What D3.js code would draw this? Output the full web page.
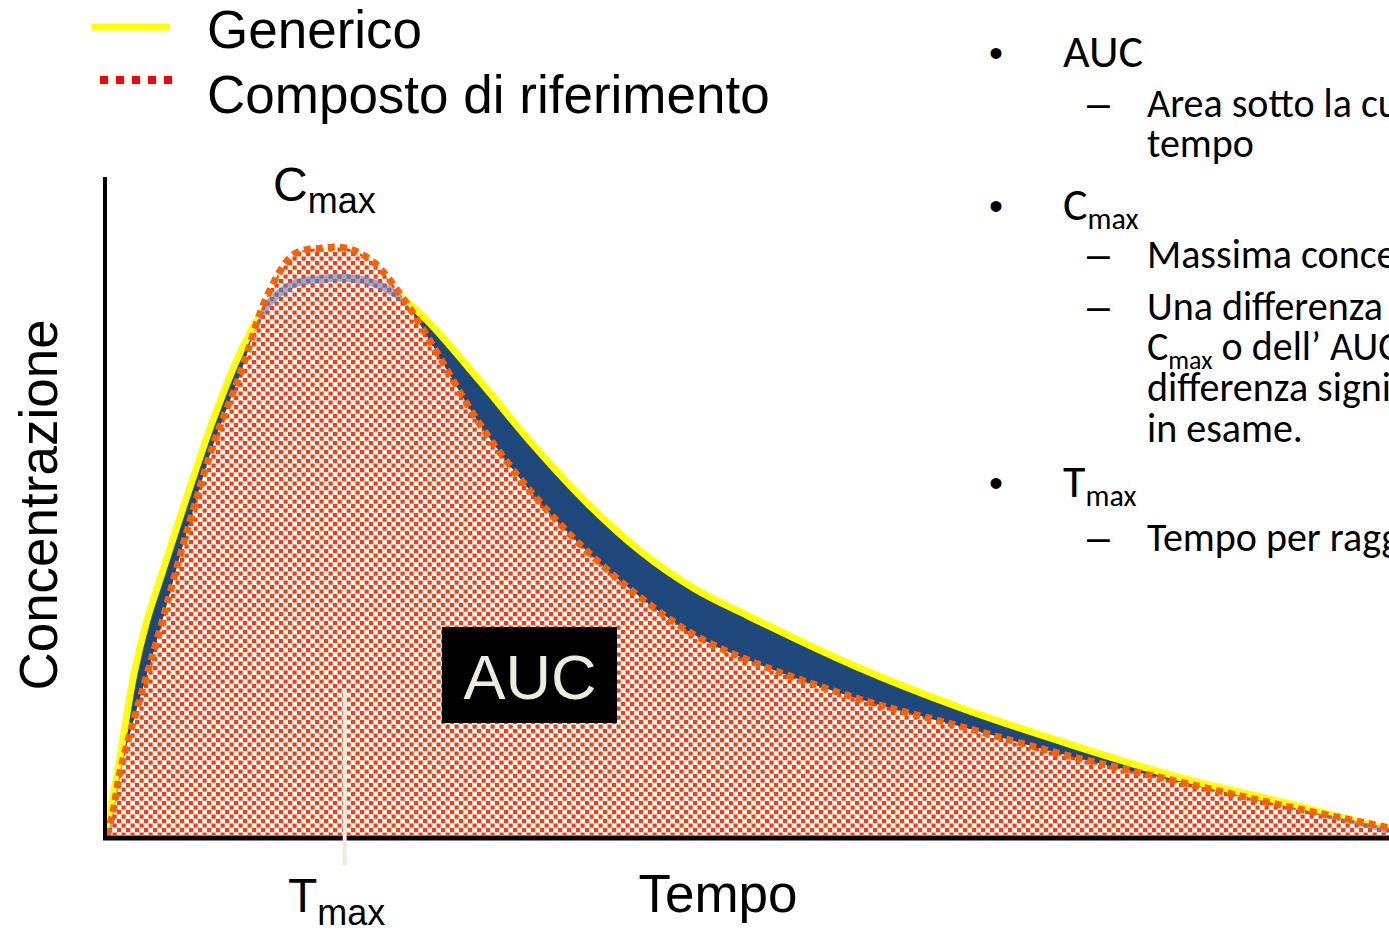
<!DOCTYPE html>
<html>
<head>
<meta charset="utf-8">
<script src="https://cdn.jsdelivr.net/npm/d3@7"></script>
<style>
  body { margin: 0; background: #fff; overflow: hidden; }
  svg { display: block; }
</style>
</head>
<body>
<div id="chart"></div>
<script>
// time (h) and concentration (arbitrary units)
const times = [0, 0.1, 0.25, 0.5, 0.75, 1, 1.5, 2, 2.5, 3, 3.5, 4, 4.5, 5, 5.5, 6, 7, 8, 9, 10, 11, 12, 14, 16, 18, 20, 22, 24];
const genericConc = [0, 5.3, 12.1, 24.2, 32.6, 38.9, 51.4, 63.2, 73.2, 80.3, 83.5, 84.2, 84.4, 83.6, 81.5, 77.9, 68.6, 58.9, 50.2, 42.9, 37.3, 33.2, 25.6, 19.2, 13.8, 8.9, 5.0, 0.8];
const referenceConc = [0, 3.0, 9.8, 17.4, 24.4, 31.4, 46.1, 59.4, 70.0, 81.7, 88.0, 88.9, 88.9, 86.7, 81.8, 75.5, 62.0, 51.4, 42.9, 35.9, 30.3, 26.5, 20.8, 16.4, 12.0, 8.2, 4.5, 1.1];
const tmax = 4.45;

const legendLabels = ["Generico", "Composto di riferimento"];

// right hand notes: level 1 = bullet, 2 = dash, 0 = continuation line
// odd entries in txt are subscripts
const noteLevels = [1, 2, 0, 1, 2, 2, 0, 0, 0, 1, 2];
const noteTexts = [
    ["AUC"],
    ["Area sotto la curva concentrazione-"],
    ["tempo"],
    ["C", "max"],
    ["Massima concentrazione"],
    ["Una differenza del 20% della"],
    ["C", "max", " o dell\u2019 AUC non \u00e8 una"],
    ["differenza significativa per il farmaco"],
    ["in esame."],
    ["T", "max"],
    ["Tempo per raggiungere la C", "max"]
];
const noteBaselines = [67, 117, 157, 220, 268, 320, 360, 401, 442, 497, 551];

const W = 1389, H = 930;
const SANS = "'Liberation Sans', Arial, sans-serif";
const CAL = "Carlito, Calibri, Lato, sans-serif";
const NAVY = "#1f497d", YELLOW = "#ffff00", ORANGE = "#ff6000", DOT = "#ff3a0a";

var svg = d3.select("#chart").append("svg")
    .attr("width", W)
    .attr("height", H);

var x = d3.scaleLinear().domain([0, 24]).range([107, 1389]);
var y = d3.scaleLinear().domain([0, 100]).range([835, 175]);

var genData = times.map((t, i) => ({t: t, c: genericConc[i]}));
var refData = times.map((t, i) => ({t: t, c: referenceConc[i]}));

var defs = svg.append("defs");
var pat = defs.append("pattern")
    .attr("id", "dots")
    .attr("patternUnits", "userSpaceOnUse")
    .attr("width", 9)
    .attr("height", 9);
pat.append("rect").attr("width", 9).attr("height", 9).attr("fill", "#fff");
pat.append("rect").attr("x", 0).attr("y", 0).attr("width", 4.2).attr("height", 4.2).attr("fill", DOT);
pat.append("rect").attr("x", 4.5).attr("y", 4.5).attr("width", 4.2).attr("height", 4.2).attr("fill", DOT);

var area = d3.area()
    .x(d => x(d.t))
    .y0(y(0))
    .y1(d => y(d.c))
    .curve(d3.curveCatmullRom.alpha(0.5));
var line = d3.line()
    .x(d => x(d.t))
    .y(d => y(d.c))
    .curve(d3.curveCatmullRom.alpha(0.5));

defs.append("clipPath").attr("id", "refClip")
    .append("path").attr("d", area(refData));

// generic: navy area + yellow line
svg.append("path").attr("d", area(genData)).attr("fill", NAVY);
svg.append("path").attr("d", line(genData))
    .attr("fill", "none").attr("stroke", YELLOW).attr("stroke-width", 7);

// reference: dotted pattern area
svg.append("path").attr("d", area(refData)).attr("fill", "url(#dots)");

// generic line seen through the reference area
svg.append("path").attr("d", line(genData))
    .attr("clip-path", "url(#refClip)")
    .attr("fill", "none")
    .attr("stroke", "rgba(80,125,190,0.6)")
    .attr("stroke-width", 8);

// reference dotted line
svg.append("path").attr("d", line(refData))
    .attr("fill", "none")
    .attr("stroke", ORANGE)
    .attr("stroke-width", 7)
    .attr("stroke-dasharray", "7 5");

// axes
svg.append("line")
    .attr("x1", x(0) - 2).attr("x2", x(0) - 2)
    .attr("y1", y(100) + 2).attr("y2", y(0) + 5)
    .attr("stroke", "#000").attr("stroke-width", 4);
svg.append("line")
    .attr("x1", x(0) - 4).attr("x2", W)
    .attr("y1", y(0) + 3).attr("y2", y(0) + 3)
    .attr("stroke", "#000").attr("stroke-width", 5);

// Tmax marker
svg.append("line")
    .attr("x1", x(tmax)).attr("x2", x(tmax))
    .attr("y1", y(22)).attr("y2", y(0) + 30)
    .attr("stroke", "#eeece1").attr("stroke-width", 4);

// AUC box
svg.append("rect")
    .attr("x", 442).attr("y", 627)
    .attr("width", 175).attr("height", 96)
    .attr("fill", "#000");
svg.append("text")
    .attr("x", 530).attr("y", 699)
    .attr("text-anchor", "middle")
    .style("font-family", SANS).style("font-size", "63px")
    .attr("fill", "#eeece1")
    .text("AUC");

// axis labels
svg.append("text")
    .attr("x", 718).attr("y", 912)
    .attr("text-anchor", "middle")
    .style("font-family", SANS).style("font-size", "53px")
    .text("Tempo");

svg.append("g")
    .attr("transform", "translate(57,505)")
    .append("text")
    .attr("transform", "rotate(-90)")
    .attr("text-anchor", "middle")
    .style("font-family", SANS).style("font-size", "53px")
    .text("Concentrazione");

function subLabel(g, px, py, main, sub, size, subSize, drop, family) {
    var t = g.append("text")
        .attr("x", px).attr("y", py)
        .style("font-family", family).style("font-size", size + "px");
    t.append("tspan").text(main);
    t.append("tspan").attr("dy", drop).style("font-size", subSize + "px").text(sub);
    return t;
}
subLabel(svg, 273, 201, "C", "max", 48, 36, 12, SANS);
subLabel(svg, 288, 912, "T", "max", 48, 36, 13, SANS);

// legend
var legend = svg.append("g");
legend.append("line")
    .attr("x1", 92).attr("x2", 170).attr("y1", 27).attr("y2", 27)
    .attr("stroke", YELLOW).attr("stroke-width", 7);
legend.append("line")
    .attr("x1", 100).attr("x2", 172).attr("y1", 80).attr("y2", 80)
    .attr("stroke", "#ff0000").attr("stroke-width", 8)
    .attr("stroke-dasharray", "8 8");
legend.selectAll("text.leg")
    .data(legendLabels)
    .enter()
    .append("text")
    .attr("class", "leg")
    .attr("x", 207)
    .attr("y", (d, i) => 48 + i * 65)
    .style("font-family", SANS).style("font-size", "53px")
    .text(d => d);

// notes on the right
var notes = svg.append("g");
noteTexts.forEach((parts, i) => {
    var lvl = noteLevels[i], by = noteBaselines[i];
    if (lvl === 1) {
        notes.append("text")
            .attr("x", 989).attr("y", by)
            .style("font-family", SANS).style("font-size", "40px")
            .text("\u2022");
    } else if (lvl === 2) {
        notes.append("text")
            .attr("x", 1087).attr("y", by)
            .style("font-family", SANS).style("font-size", "41px")
            .text("\u2013");
    }
    var big = lvl === 1 ? 46 : 40;
    var t = notes.append("text")
        .attr("x", lvl === 1 ? 1063 : 1147)
        .attr("y", by)
        .style("font-family", CAL).style("font-size", big + "px");
    parts.forEach((p, j) => {
        var ts = t.append("tspan").text(p);
        if (j % 2 === 1) {
            ts.attr("dy", 9).style("font-size", Math.round(big * 0.66) + "px");
        } else if (j > 0) {
            ts.attr("dy", -9);
        }
    });
});
</script>
</body>
</html>
